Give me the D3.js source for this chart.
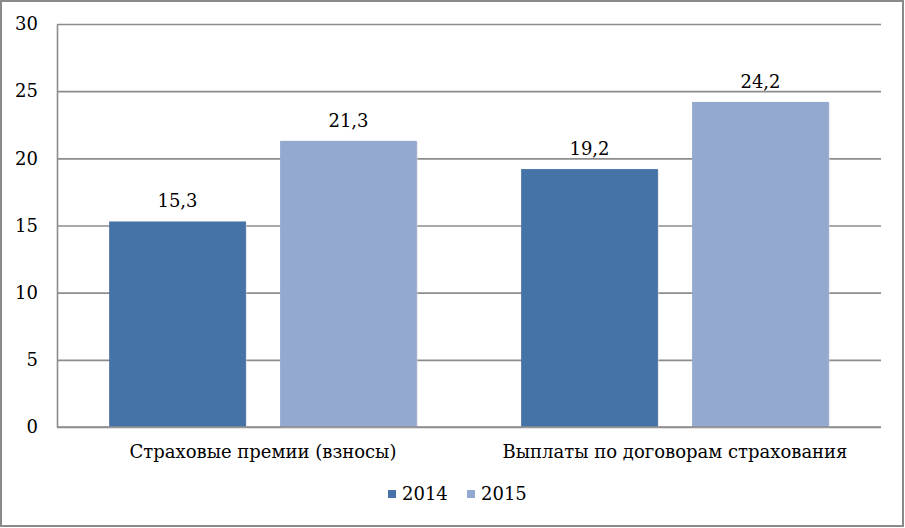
<!DOCTYPE html>
<html><head><meta charset="utf-8">
<script src="https://cdn.jsdelivr.net/npm/d3@7"></script>
<style>
html,body{margin:0;padding:0;background:#fff;}
svg{display:block;font-family:"DejaVu Serif",serif;}
</style></head>
<body>
<svg id="chart" width="905" height="528"></svg>
<script>
const categories = ["Страховые премии (взносы)", "Выплаты по договорам страхования"];
const seriesNames = ["2014", "2015"];
const values2014 = [15.3, 19.2];
const values2015 = [21.3, 24.2];
const yTicks = [0, 5, 10, 15, 20, 25, 30];
const colors = ["#4572A7", "#93A9D0"];

const series = [values2014, values2015];
const svg = d3.select("#chart");
const W = 905, H = 528;
const m = {left: 57, right: 24, top: 24, bottom: 101};
const FS = 18;

svg.append("rect").attr("x", 1).attr("y", 1).attr("width", W - 3).attr("height", H - 3)
  .attr("fill", "#fff").attr("stroke", "#8a8a8a").attr("stroke-width", 2);

const x0 = d3.scaleBand().domain(categories).range([m.left, W - m.right]).paddingInner(0).paddingOuter(0);
const x1 = d3.scaleBand().domain(seriesNames).range([0, x0.bandwidth()]).paddingInner(0.2).paddingOuter(0.305);
const y = d3.scaleLinear().domain([0, 30]).range([H - m.bottom, m.top]);

const fmt = d => d3.format(".1f")(d).replace(".", ",");

// gridlines
const grid = svg.append("g").attr("transform", `translate(${m.left},0)`)
  .call(d3.axisLeft(y).tickValues(yTicks).tickSize(-(W - m.left - m.right)).tickFormat(""));
grid.select(".domain").remove();
grid.selectAll("line").attr("stroke", "#8c8c8c").attr("stroke-width", 1.6);

// y labels
const yAxis = svg.append("g").attr("transform", `translate(${m.left},0)`)
  .call(d3.axisLeft(y).tickValues(yTicks).tickSize(0).tickPadding(19).tickFormat(d3.format("d")));
yAxis.select(".domain").attr("stroke", "#8c8c8c").attr("stroke-width", 1.6);
yAxis.selectAll("text").attr("font-size", FS).attr("fill", "#000")
  .attr("font-family", "DejaVu Serif, serif");

// bars
const groups = svg.append("g").selectAll("g").data(categories).join("g")
  .attr("transform", d => `translate(${x0(d)},0)`);
seriesNames.forEach((s, si) => {
  groups.append("rect")
    .attr("x", x1(s) + 1)
    .attr("width", x1.bandwidth())
    .attr("y", (d, i) => y(series[si][i]) + 1)
    .attr("height", (d, i) => y(0) - y(series[si][i]))
    .attr("fill", "#d8d8d8").attr("opacity", 0.6);
  groups.append("rect")
    .attr("x", x1(s))
    .attr("width", x1.bandwidth())
    .attr("y", (d, i) => y(series[si][i]))
    .attr("height", (d, i) => y(0) - y(series[si][i]))
    .attr("fill", colors[si]);
  groups.append("text")
    .attr("x", x1(s) + x1.bandwidth() / 2)
    .attr("y", (d, i) => y(series[si][i]) - 14)
    .attr("text-anchor", "middle")
    .attr("font-size", FS)
    .text((d, i) => fmt(series[si][i]));
});

// x axis baseline
svg.append("line").attr("x1", m.left).attr("x2", W - m.right)
  .attr("y1", y(0)).attr("y2", y(0)).attr("stroke", "#8c8c8c").attr("stroke-width", 1.6);

// x labels
const xAxis = svg.append("g").attr("transform", `translate(0,${y(0)})`)
  .call(d3.axisBottom(x0).tickSize(0).tickPadding(18));
xAxis.select(".domain").remove();
xAxis.selectAll("text").attr("font-size", FS).attr("fill", "#000")
  .attr("font-family", "DejaVu Serif, serif");

// legend
const legend = svg.append("g").attr("transform", "translate(388,494)");
const legX = [0, 79];
seriesNames.forEach((s, i) => {
  const g = legend.append("g").attr("transform", `translate(${legX[i]},0)`);
  g.append("rect").attr("x", 0).attr("y", -4).attr("width", 8).attr("height", 8).attr("fill", colors[i]);
  g.append("text").attr("x", 14).attr("y", 0).attr("dy", "0.35em").attr("font-size", FS).text(s);
});
</script>
</body></html>
